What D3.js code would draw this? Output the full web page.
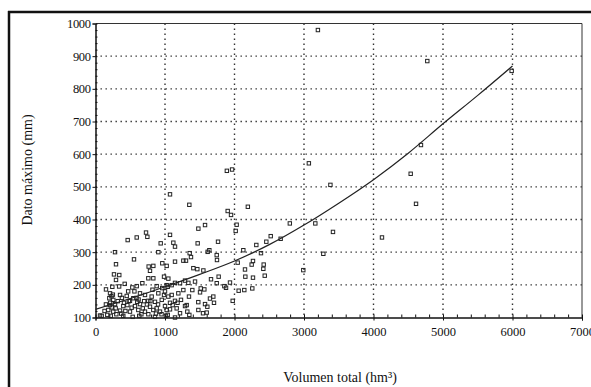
<!DOCTYPE html>
<html>
<head>
<meta charset="utf-8">
<script src="https://cdn.jsdelivr.net/npm/d3@7"></script>
<style>
  body { margin: 0; background: #fff; }
  svg { display: block; font-family: "Liberation Serif", "DejaVu Serif", serif; }
</style>
</head>
<body>
<svg id="chart" width="591" height="387"></svg>
<script>
// observed points: volumen total (hm3)
const volumen = [
  3200, 4774, 5988, 3070, 4683, 4535, 3380, 4612, 4122, 1890, 1965, 1072, 1350, 1902, 1950, 2192,
  727, 746, 593, 463, 1480, 1576, 2031, 2017, 2796, 3163, 3417, 3278, 2990, 2521, 2458, 2664,
  2314, 2381, 2127, 1470, 1763, 1638, 1614, 1355, 1374, 1744, 1748, 2046, 2266, 2247, 2420, 2415,
  2151, 1408, 1465, 1552, 2156, 2266, 2435, 1772, 1662, 1744, 1854, 1878, 1935, 2060, 2141, 2256,
  1974, 1514, 1566, 1504, 1393, 1336, 1345, 1695, 1647, 1705, 1576, 1479, 1609, 1480, 1312, 1321,
  1547, 1600, 1350,
  1072, 1120, 1144, 1144, 1024, 1288, 1216, 1144, 1096, 1039, 1264, 1192, 1096, 1048, 1230, 1144,
  1072, 1288, 1168, 1072, 1216, 1024, 1039, 1144, 1264, 1302, 1432,
  938, 281, 904, 554, 295, 961, 832, 765, 784, 266, 342, 295, 760, 832, 986, 420,
  151, 242, 674, 593, 530, 880, 1024, 209, 353, 449, 640, 712, 808, 904, 986, 199,
  256, 544, 496, 601, 760, 856, 953, 209, 281, 400, 458, 568, 640, 784, 880, 1000,
  184, 256, 353, 496, 616, 712, 832, 928, 89, 219, 400, 630, 856, 1014, 233, 535,
  65, 170, 1048,
  320, 380, 430, 520, 700, 660, 760, 900, 950, 150, 130, 300, 470, 560, 820, 960, 1000, 250, 340,
  210, 290, 370, 480, 590, 680, 740, 870, 1110, 1180, 230, 410, 620, 790
];
// observed points: dato maximo (mm)
const datoMax = [
  980, 885, 855, 572, 628, 540, 506, 448, 345, 549, 553, 477, 445, 426, 414, 439,
  360, 347, 345, 337, 372, 383, 384, 365, 388, 388, 362, 295, 245, 349, 332, 341,
  322, 297, 306, 327, 332, 306, 301, 297, 285, 291, 276, 268, 273, 262, 262, 249,
  247, 251, 248, 244, 225, 222, 228, 225, 217, 205, 196, 191, 207, 182, 184, 189,
  151, 189, 186, 177, 184, 206, 164, 164, 158, 145, 141, 147, 133, 123, 138, 118,
  113, 115, 108,
  353, 329, 317, 271, 258, 213, 205, 206, 199, 194, 184, 174, 169, 164, 154, 151,
  145, 135, 128, 125, 113, 123, 108, 100, 274, 274, 210,
  327, 300, 300, 278, 263, 266, 258, 256, 243, 232, 230, 215, 220, 220, 225, 203,
  186, 194, 205, 196, 192, 196, 199, 174, 169, 166, 174, 169, 164, 174, 169, 159,
  154, 159, 151, 148, 151, 148, 154, 138, 141, 135, 138, 135, 141, 133, 128, 135,
  123, 118, 121, 118, 123, 118, 123, 118, 105, 105, 105, 105, 102, 105, 131, 102,
  106, 108, 219,
  150, 160, 120, 130, 150, 110, 110, 140, 110, 140, 120, 110, 180, 180, 185, 190, 180, 170, 195,
  145, 128, 112, 150, 160, 128, 140, 112, 138, 145, 165, 145, 155, 150
];

// fitted curve
const curveX = [0, 500, 1000, 1500, 2000, 2500, 3000, 3500, 4000, 4500, 5000, 5500, 6000];
const curveY = [125, 158, 194, 232, 273, 323, 383, 450, 522, 603, 693, 780, 870];

const xTicks = [0, 1000, 2000, 3000, 4000, 5000, 6000, 7000];
const yTicks = [100, 200, 300, 400, 500, 600, 700, 800, 900, 1000];

const svg = d3.select("#chart");
const m = { left: 95.5, right: 582, top: 23.5, bottom: 317.5 };

const x = d3.scaleLinear().domain([0, 7000]).range([m.left, m.right]);
const y = d3.scaleLinear().domain([100, 1000]).range([m.bottom, m.top]);

// page frame (scan border)
svg.append("line").attr("x1", 9).attr("x2", 9).attr("y1", 11).attr("y2", 387)
  .attr("stroke", "#111").attr("stroke-width", 2.5);
svg.append("line").attr("x1", 8).attr("x2", 591).attr("y1", 12).attr("y2", 12)
  .attr("stroke", "#111").attr("stroke-width", 2.5);

// dotted grid
const grid = svg.append("g").attr("stroke", "#333").attr("stroke-width", 1.4)
  .attr("stroke-dasharray", "1.4,3.6");
grid.selectAll(".gx").data(xTicks.slice(1, -1)).enter().append("line")
  .attr("x1", d => x(d)).attr("x2", d => x(d)).attr("y1", m.top).attr("y2", m.bottom);
grid.selectAll(".gy").data(yTicks.slice(1, -1)).enter().append("line")
  .attr("x1", m.left).attr("x2", m.right).attr("y1", d => y(d)).attr("y2", d => y(d));

// frame top + right
svg.append("line").attr("x1", m.left).attr("x2", m.right).attr("y1", m.top).attr("y2", m.top)
  .attr("stroke", "#333").attr("stroke-width", 1);
svg.append("line").attr("x1", m.right).attr("x2", m.right).attr("y1", m.top).attr("y2", m.bottom)
  .attr("stroke", "#333").attr("stroke-width", 1);

// x axis
const xAxis = svg.append("g").attr("transform", "translate(0," + m.bottom + ")");
xAxis.call(d3.axisBottom(x).tickValues(xTicks).tickSize(3).tickFormat(d3.format("d")));
xAxis.append("g").call(d3.axisTop(x).tickValues(d3.range(200, 7000, 200)).tickSize(3).tickFormat(""));
xAxis.selectAll(".domain").attr("stroke", "#111");
xAxis.selectAll("line").attr("stroke", "#111");
xAxis.selectAll("text").attr("font-size", 12.5).attr("fill", "#111")
  .attr("font-family", "Liberation Serif").attr("dy", "1em");

// y axis
const yAxis = svg.append("g").attr("transform", "translate(" + m.left + ",0)");
yAxis.call(d3.axisLeft(y).tickValues(yTicks).tickSize(3).tickPadding(2).tickFormat(d3.format("d")));
yAxis.append("g").call(d3.axisRight(y).tickValues(d3.range(120, 1000, 20)).tickSize(2).tickFormat(""));
yAxis.selectAll(".domain").attr("stroke", "#111");
yAxis.selectAll("line").attr("stroke", "#111");
yAxis.selectAll("text").attr("font-size", 12.5).attr("fill", "#111")
  .attr("font-family", "Liberation Serif").attr("letter-spacing", "-0.4px");

// fitted curve
const line = d3.line().x(d => x(d[0])).y(d => y(d[1])).curve(d3.curveMonotoneX);
svg.append("path").datum(d3.zip(curveX, curveY)).attr("d", line)
  .attr("fill", "none").attr("stroke", "#222").attr("stroke-width", 1.2);

// points
const s = 3.4;
svg.append("g").selectAll("rect").data(d3.zip(volumen, datoMax)).enter().append("rect")
  .attr("x", d => x(d[0]) - s / 2).attr("y", d => y(d[1]) - s / 2)
  .attr("width", s).attr("height", s)
  .attr("fill", "none").attr("stroke", "#222").attr("stroke-width", 1);

// axis titles
svg.append("text").attr("x", 340).attr("y", 382).attr("text-anchor", "middle")
  .attr("font-size", 14).attr("fill", "#111").text("Volumen total (hm³)");
svg.append("text").attr("transform", "translate(32,170) rotate(-90)").attr("text-anchor", "middle")
  .attr("font-size", 14).attr("fill", "#111").text("Dato máximo (mm)");
</script>
</body>
</html>
